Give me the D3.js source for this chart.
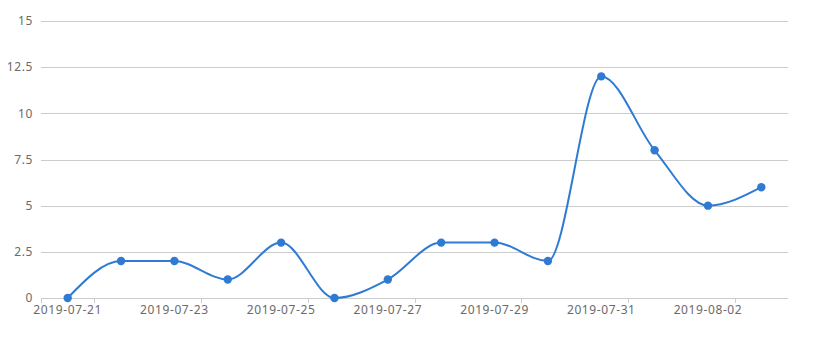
<!DOCTYPE html>
<html>
<head>
<meta charset="utf-8">
<script src="https://cdn.jsdelivr.net/npm/d3@7"></script>
<style>
  body { margin: 0; background: #fff; }
  text { font-family: "Noto Sans", sans-serif; font-size: 12px; fill: #6a6a6a; letter-spacing: 0.6px; }
</style>
</head>
<body>
<script>
"use strict";

///////////////////
// data
///////////////////
var dates = ["2019-07-21", "2019-07-22", "2019-07-23", "2019-07-24", "2019-07-25",
             "2019-07-26", "2019-07-27", "2019-07-28", "2019-07-29", "2019-07-30",
             "2019-07-31", "2019-08-01", "2019-08-02", "2019-08-03"];
var counts = [0, 2, 2, 1, 3, 0, 1, 3, 3, 2, 12, 8, 5, 6];
var yTicks = [0, 2.5, 5, 7.5, 10, 12.5, 15];

(function() {
    var width = 824, height = 352;
    var plotLeft = 41, plotRight = 788, plotTop = 21, plotBottom = 298;
    var lineColor = "#2f7bd4";

    var svg = d3.select("body").append("svg")
        .attr("width", width)
        .attr("height", height);

    var x = d3.scaleBand().domain(dates).range([plotLeft, plotRight]);
    var y = d3.scaleLinear().domain([0, 15]).range([plotBottom, plotTop]);

    // grid lines + y labels
    svg.selectAll("line.grid")
        .data(yTicks.filter(function(d) { return d > 0; }))
        .enter().append("line")
        .attr("class", "grid")
        .attr("x1", plotLeft).attr("x2", plotRight)
        .attr("y1", function(d) { return Math.round(y(d)) + 0.5; })
        .attr("y2", function(d) { return Math.round(y(d)) + 0.5; })
        .attr("stroke", "#ccc");

    svg.selectAll("text.ylab")
        .data(yTicks)
        .enter().append("text")
        .attr("class", "ylab")
        .attr("x", plotLeft - 8)
        .attr("y", function(d) { return y(d); })
        .attr("dy", "0.35em")
        .attr("text-anchor", "end")
        .text(function(d) { return d; });

    // x axis line
    svg.append("line")
        .attr("x1", plotLeft).attr("x2", plotRight)
        .attr("y1", plotBottom + 0.5).attr("y2", plotBottom + 0.5)
        .attr("stroke", "#ccc");

    // ticks on band boundaries (every other one), labels on every other category
    var boundaries = [0];
    for (var i = 1; i < dates.length; i += 2) boundaries.push(i);
    svg.selectAll("line.tick")
        .data(boundaries)
        .enter().append("line")
        .attr("class", "tick")
        .attr("x1", function(d) { return Math.round(plotLeft + d * x.bandwidth()) + 0.5; })
        .attr("x2", function(d) { return Math.round(plotLeft + d * x.bandwidth()) + 0.5; })
        .attr("y1", plotBottom).attr("y2", plotBottom + 5)
        .attr("stroke", "#ccc");

    svg.selectAll("text.xlab")
        .data(dates.filter(function(d, i) { return i % 2 === 0; }))
        .enter().append("text")
        .attr("class", "xlab")
        .attr("x", function(d) { return x(d) + x.bandwidth() / 2; })
        .attr("y", plotBottom + 16)
        .attr("text-anchor", "middle")
        .text(function(d) { return d; });

    // line
    var pts = dates.map(function(d, i) { return { date: d, value: counts[i] }; });
    var line = d3.line()
        .x(function(d) { return x(d.date) + x.bandwidth() / 2; })
        .y(function(d) { return y(d.value); })
        .curve(d3.curveMonotoneX);

    svg.append("path")
        .datum(pts)
        .attr("d", line)
        .attr("fill", "none")
        .attr("stroke", lineColor)
        .attr("stroke-width", 2);

    svg.selectAll("circle")
        .data(pts)
        .enter().append("circle")
        .attr("cx", function(d) { return x(d.date) + x.bandwidth() / 2; })
        .attr("cy", function(d) { return y(d.value); })
        .attr("r", 4.2)
        .attr("fill", lineColor);
})();
</script>
</body>
</html>
